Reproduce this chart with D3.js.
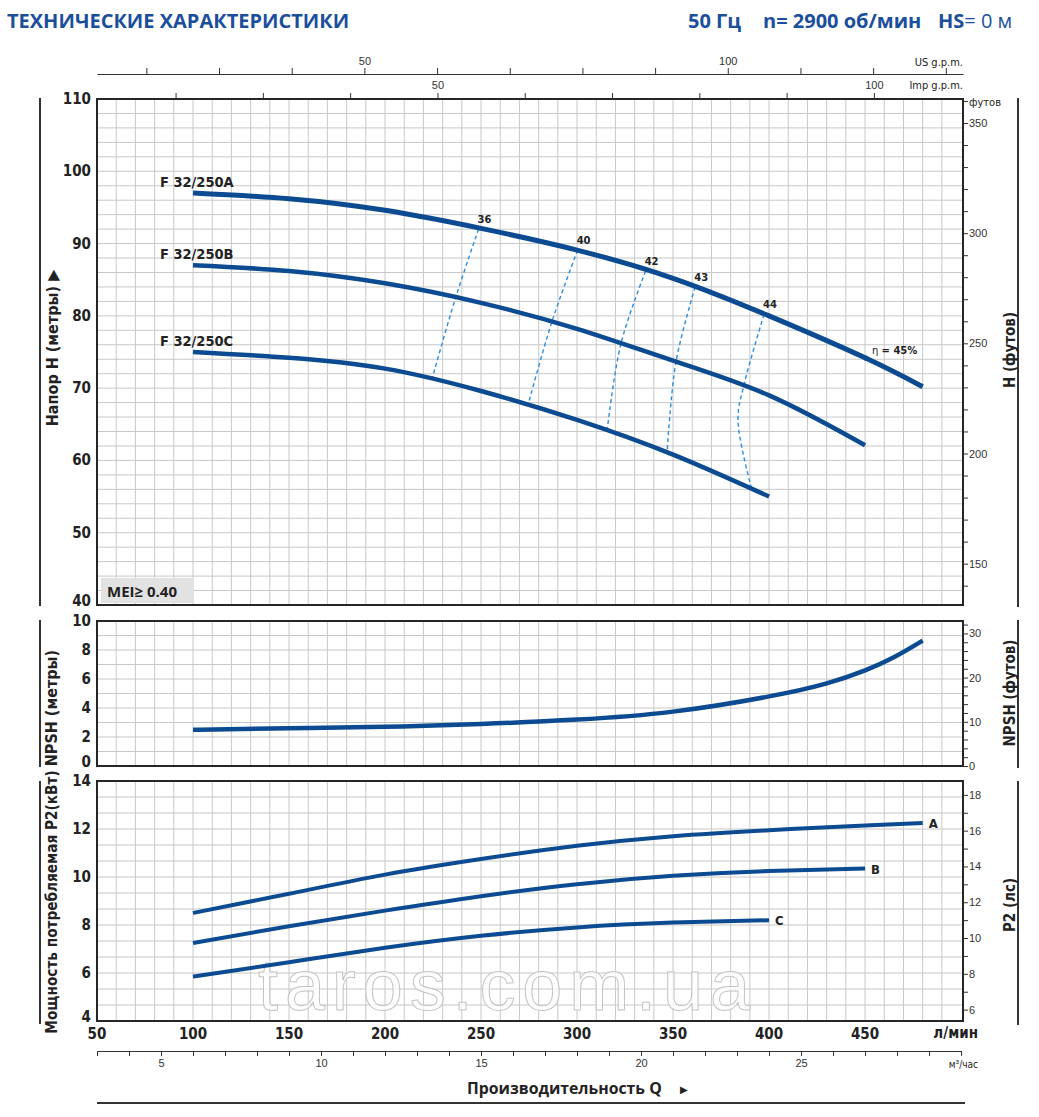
<html>
<head>
<style>
  body { margin: 0; background: #fff; }
  .grid line { stroke: #c8c8c8; stroke-width: 1; }
  .frame { fill: none; stroke: #262626; stroke-width: 2; }
  .curve { fill: none; stroke: #0c4b91; }
  .eff { fill: none; stroke: #2a8ee0; stroke-width: 1.4; stroke-dasharray: 4 3; }
  .num { font-family: "Liberation Sans Narrow", "DejaVu Sans Condensed", "Liberation Sans", sans-serif; fill: #222; }
  .axis text { font-family: "Liberation Sans Narrow", "Liberation Sans", sans-serif; font-size: 11px; fill: #333; }
  .axis line { stroke: #333; }
  .head { font-family: "Open Sans", sans-serif; font-weight: 700; fill: #1b4f9b; }
</style>
</head>
<body>
<svg id="chart" width="1039" height="1117"></svg>
<script src="https://d3js.org/d3.v7.min.js"></script>
<script>
// ---- data (Q in l/min) ----
const qHead = [100, 150, 200, 250, 300, 350, 400, 450, 480]
const headA = [97.0, 96.2, 94.6, 92.1, 89.1, 85.2, 80.0, 74.2, 70.2]
const headB = [87.0, 86.2, 84.5, 81.8, 78.2, 73.8, 69.0, 62.1]
const headC = [75.0, 74.2, 72.7, 69.6, 65.6, 60.8, 55.0]
const headNames = ["F 32/250A", "F 32/250B", "F 32/250C"]

// iso-efficiency lines: points on A, B, C
const effLabels = ["36", "40", "42", "43", "44"]
const effQ = [[248.7, 236.4, 224.5], [300.3, 286.8, 274.5], [335.7, 322.8, 315.6], [361.5, 351.5, 346.9], [397.4, 387, 383.8, 391]]
const effH = [[92.0, 82.2, 71.3], [89.1, 79.1, 67.7], [86.2, 76.1, 64.0], [84.0, 73.6, 61.1], [80.2, 70.5, 65.6, 56.0]]
const eta45 = [450.5, 74.15]

const qNpsh = [100, 150, 200, 250, 300, 350, 400, 430, 450, 465, 480]
const npsh = [2.5, 2.6, 2.7, 2.9, 3.2, 3.75, 4.8, 5.7, 6.6, 7.5, 8.65]

const qPower = [100, 150, 200, 250, 300, 350, 400, 450, 480]
const powerA = [8.5, 9.3, 10.1, 10.75, 11.3, 11.7, 11.95, 12.15, 12.25]
const powerB = [7.25, 7.95, 8.6, 9.2, 9.7, 10.05, 10.25, 10.35]
const powerC = [5.85, 6.45, 7.05, 7.55, 7.9, 8.1, 8.2]
const powerNames = ["A", "B", "C"]

const flowTicks = [50, 100, 150, 200, 250, 300, 350, 400, 450]
const m3hTicks = d3.range(3, 31, 1)
const usTicks = d3.range(20, 131, 10)
const impTicks = d3.range(20, 101, 10)

// ---- scales ----
const svg = d3.select("#chart")
const x = d3.scaleLinear().domain([50, 501]).range([97, 963])
const yH = d3.scaleLinear().domain([40, 110]).range([605, 99])
const yN = d3.scaleLinear().domain([0, 10]).range([766, 621])
const yP = d3.scaleLinear().domain([4, 14]).range([1021, 781])

const panels = [
    {y: yH, grid: d3.range(40, 110.01, 2), ticks: d3.range(40, 111, 10)},
    {y: yN, grid: d3.range(0, 10.01, 1), ticks: d3.range(0, 11, 2)},
    {y: yP, grid: d3.range(0, 16).map(i => 4 + i * 2 / 3), ticks: d3.range(4, 15, 2)}
]

// header
svg.append("text").attr("class", "head").attr("x", 7).attr("y", 28)
    .style("font-size", "20px").text("ТЕХНИЧЕСКИЕ ХАРАКТЕРИСТИКИ")
svg.append("text").attr("class", "head").attr("x", 688).attr("y", 28)
    .style("font-size", "20px").text("50 Гц")
svg.append("text").attr("class", "head").attr("x", 763).attr("y", 28)
    .style("font-size", "20px").text("n= 2900 об/мин")
let hs = svg.append("text").attr("class", "head").attr("x", 938).attr("y", 28).style("font-size", "20px")
hs.append("tspan").text("HS")
hs.append("tspan").style("font-weight", 400).text("= 0 м")

// panels: grid + frame + left labels
panels.forEach(p => {
    let top = p.y.range()[1], bottom = p.y.range()[0]
    let g = svg.append("g").attr("class", "grid")
    g.selectAll(".v").data(d3.range(60, 500, 10)).join("line")
        .attr("x1", d => x(d)).attr("x2", d => x(d))
        .attr("y1", top).attr("y2", bottom)
    g.selectAll(".h").data(p.grid).join("line")
        .attr("x1", x(50)).attr("x2", x(501))
        .attr("y1", d => p.y(d)).attr("y2", d => p.y(d))
    svg.append("rect").attr("class", "frame")
        .attr("x", x(50)).attr("y", top)
        .attr("width", x(501) - x(50)).attr("height", bottom - top)
    let min = p.y.domain()[0]
    svg.selectAll(null).data(p.ticks).join("text")
        .attr("class", "num")
        .attr("x", 91)
        .attr("y", d => p.y(d) + 5 - (d === min ? 4 : 0))
        .attr("text-anchor", "end")
        .style("font-size", "15px").style("font-weight", "bold")
        .text(d => d)
})

// watermark
svg.append("text").attr("x", 258).attr("y", 1010)
    .attr("textLength", 492)
    .style("font-family", "Liberation Sans, sans-serif").style("font-size", "72px")
    .style("fill", "#fff").style("fill-opacity", 0.75)
    .style("stroke", "#c4c4c4").style("stroke-width", 1)
    .text("taros.com.ua")

// right axes
function rightAxis(scale, values, every) {
    let g = svg.append("g").attr("class", "axis")
        .attr("transform", "translate(963,0)")
        .call(d3.axisRight(scale).tickValues(values).tickSize(5).tickPadding(1)
            .tickFormat(d => d % every === 0 ? d : ""))
    g.select(".domain").remove()
}
rightAxis(d3.scaleLinear().domain([40 / 0.3048, 110 / 0.3048]).range(yH.range()), d3.range(140, 361, 10), 50)
rightAxis(d3.scaleLinear().domain([0, 10 / 0.3048]).range(yN.range()), d3.range(0, 33, 2), 10)
rightAxis(d3.scaleLinear().domain([4 / 0.7457, 14 / 0.7457]).range(yP.range()), d3.range(6, 19, 1), 2)
svg.append("text").attr("class", "num").attr("x", 969).attr("y", 106)
    .style("font-size", "11px").text("футов")

// top axes (US / Imp gpm)
let gUs = svg.append("g").attr("class", "axis").attr("transform", "translate(0,74)")
    .call(d3.axisTop(d3.scaleLinear().domain([50 / 3.785, 501 / 3.785]).range(x.range()))
        .tickValues(usTicks).tickSize(6).tickSizeOuter(0).tickPadding(3)
        .tickFormat(d => d % 50 === 0 ? d : ""))
gUs.select(".domain").attr("stroke", "#333")
let gImp = svg.append("g").attr("class", "axis").attr("transform", "translate(0,99)")
    .call(d3.axisTop(d3.scaleLinear().domain([50 / 4.546, 501 / 4.546]).range(x.range()))
        .tickValues(impTicks).tickSize(6).tickPadding(4)
        .tickFormat(d => d % 50 === 0 ? d : ""))
gImp.select(".domain").remove()
svg.append("text").attr("class", "num").attr("x", 963).attr("y", 66).attr("text-anchor", "end")
    .style("font-size", "11px").text("US g.p.m.")
svg.append("text").attr("class", "num").attr("x", 963).attr("y", 89).attr("text-anchor", "end")
    .style("font-size", "11px").text("Imp g.p.m.")

// bottom axes
svg.selectAll(null).data(flowTicks).join("text")
    .attr("class", "num").attr("x", d => x(d)).attr("y", 1039)
    .attr("text-anchor", "middle").style("font-size", "15px").style("font-weight", "bold")
    .text(d => d)
svg.append("text").attr("class", "num").attr("x", 978).attr("y", 1038).attr("text-anchor", "end")
    .style("font-size", "15px").style("font-weight", "bold").text("л/мин")
let gM3 = svg.append("g").attr("class", "axis").attr("transform", "translate(0,1051)")
    .call(d3.axisBottom(d3.scaleLinear().domain([3, 30]).range([x(50), x(500)]))
        .tickValues(m3hTicks).tickSize(5).tickSizeOuter(0).tickPadding(3)
        .tickFormat(d => d % 5 === 0 && d < 30 ? d : ""))
gM3.select(".domain").attr("stroke", "#333")
svg.append("text").attr("class", "num").attr("x", 978).attr("y", 1068).attr("text-anchor", "end")
    .style("font-size", "10px").text("м³/час")
svg.append("text").attr("x", 467).attr("y", 1094)
    .style("font-family", "Open Sans, sans-serif").style("font-weight", 700).style("font-size", "15.8px")
    .style("fill", "#222").text("Производительность Q")
svg.append("text").attr("x", 680).attr("y", 1093)
    .style("font-size", "10px").style("fill", "#222").text("▶")
svg.append("line").attr("x1", 97).attr("x2", 965).attr("y1", 1103).attr("y2", 1103)
    .attr("stroke", "#333").attr("stroke-width", 2)

// side bars and titles
const bars = [[98, 606], [620, 767], [781, 1024]]
bars.forEach(b => {
    svg.append("line").attr("x1", 40).attr("x2", 40).attr("y1", b[0]).attr("y2", b[1])
        .attr("stroke", "#333").attr("stroke-width", 2)
    svg.append("line").attr("x1", 1018).attr("x2", 1018).attr("y1", b[0]).attr("y2", b[1] + 1)
        .attr("stroke", "#333").attr("stroke-width", 2)
})
function sideTitle(tx, ty, txt, size) {
    svg.append("text").attr("class", "num")
        .attr("transform", "translate(" + tx + "," + ty + ") rotate(-90)")
        .attr("text-anchor", "middle")
        .style("font-size", size + "px").style("font-weight", "bold")
        .text(txt)
}
sideTitle(58, 348, "Напор  H  (метры)  ▶", 16)
sideTitle(57, 708, "NPSH  (метры)", 16)
sideTitle(57, 902, "Мощность потребляемая P2(кВт)", 15.2)
sideTitle(1015, 350, "H  (футов)", 15)
sideTitle(1015, 693, "NPSH  (футов)", 15)
sideTitle(1015, 905, "P2  (лс)", 15)

// MEI box
svg.append("rect").attr("x", 101).attr("y", 578).attr("width", 93).attr("height", 25).attr("fill", "#e2e2e2")
svg.append("text").attr("x", 107).attr("y", 597)
    .style("font-family", "Open Sans, sans-serif").style("font-weight", 700).style("font-size", "15px")
    .style("fill", "#222").text("MEI≥ 0.40")

// curves
const smooth = y => d3.line().x(d => x(d[0])).y(d => y(d[1])).curve(d3.curveNatural)

// efficiency iso-lines
const effLine = d3.line().x(d => x(d[0])).y(d => yH(d[1])).curve(d3.curveCatmullRom)
effLabels.forEach((lab, i) => {
    svg.append("path").attr("class", "eff").attr("d", effLine(d3.zip(effQ[i], effH[i])))
    svg.append("text").attr("x", x(effQ[i][0]) + 6).attr("y", yH(effH[i][0]) - 6)
        .attr("text-anchor", "middle")
        .style("font-family", "DejaVu Sans, sans-serif").style("font-weight", "bold").style("font-size", "10px")
        .style("fill", "#222").text(lab)
})

const heads = [headA, headB, headC]
heads.forEach((h, i) => {
    svg.append("path").attr("class", "curve").attr("stroke-width", i === 0 ? 5 : 4.5)
        .attr("d", smooth(yH)(d3.zip(qHead, h)))
    svg.append("text").attr("class", "num").attr("x", x(qHead[0]) - 33).attr("y", yH(h[0]) - 6)
        .style("font-size", "14.5px").style("font-weight", "bold").text(headNames[i])
})

svg.append("circle").attr("cx", x(eta45[0])).attr("cy", yH(eta45[1])).attr("r", 2.5).attr("fill", "#0c4b91")
let eta = svg.append("text").attr("x", x(eta45[0]) + 6).attr("y", yH(eta45[1]) - 4)
    .style("font-family", "DejaVu Sans, sans-serif").style("font-size", "10px").style("fill", "#222")
eta.append("tspan").text("η ")
eta.append("tspan").style("font-weight", "bold").text("= 45%")

svg.append("path").attr("class", "curve").attr("stroke-width", 4.5)
    .attr("d", smooth(yN)(d3.zip(qNpsh, npsh)))

const powers = [powerA, powerB, powerC]
powers.forEach((p, i) => {
    svg.append("path").attr("class", "curve").attr("stroke-width", 4)
        .attr("d", smooth(yP)(d3.zip(qPower, p)))
    svg.append("text").attr("class", "num")
        .attr("x", x(qPower[p.length - 1]) + 6).attr("y", yP(p[p.length - 1]) + 5)
        .style("font-size", "13px").style("font-weight", "bold").text(powerNames[i])
})
</script>
</body>
</html>
